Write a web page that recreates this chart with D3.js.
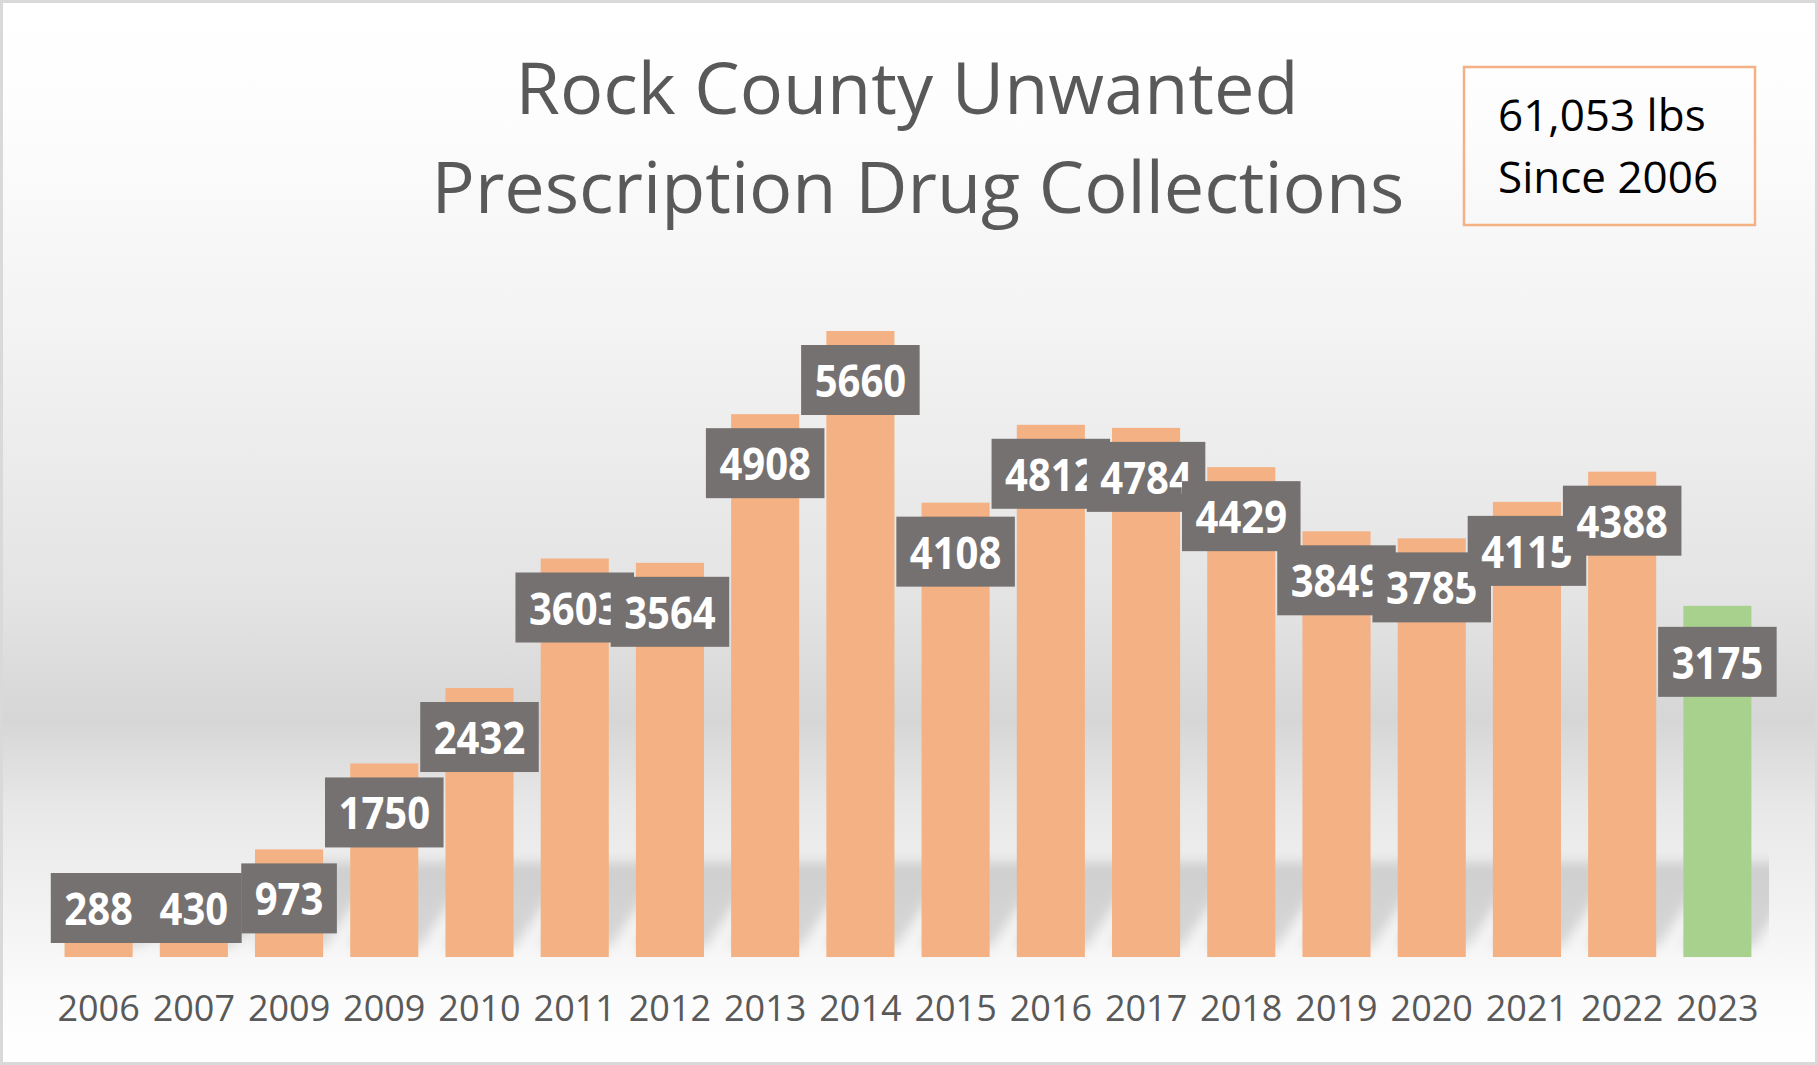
<!DOCTYPE html>
<html>
<head>
<meta charset="utf-8">
<script src="https://cdn.jsdelivr.net/npm/d3@7"></script>
<style>
  html, body { margin: 0; padding: 0; background: #fff; }
  svg text { font-family: 'Open Sans', 'Noto Sans', sans-serif; }
</style>
</head>
<body>
<div id="chart"></div>
<script>
'use strict';
// data
var years = ["2006","2007","2009","2009","2010","2011","2012","2013","2014","2015","2016","2017","2018","2019","2020","2021","2022","2023"];
var pounds = [288,430,973,1750,2432,3603,3564,4908,5660,4108,4812,4784,4429,3849,3785,4115,4388,3175];
var yDomain = [0, 6000];
var titleLines = ["Rock County Unwanted", "Prescription Drug Collections"];
var totalLines = ["61,053 lbs", "Since 2006"];

var width = 1818, height = 1065;
var orange = "#F4B183", green = "#A9D18E", labelGrey = "#767171";
var base = 957;

var svg = d3.select("#chart").append("svg")
        .attr("width", width)
        .attr("height", height);

var defs = svg.append("defs");

// background gradient
var grad = defs.append("linearGradient")
        .attr("id", "bg")
        .attr("gradientUnits", "userSpaceOnUse")
        .attr("x1", 0).attr("y1", 0)
        .attr("x2", 0).attr("y2", height);
[[0, "#ffffff"], [0.11, "#fdfdfd"], [0.33, "#f2f2f2"], [0.57, "#e3e3e3"],
 [0.675, "#d6d6d6"], [0.76, "#e8e8e8"], [0.87, "#f4f4f4"], [0.94, "#fcfcfc"], [1, "#ffffff"]]
    .forEach(function(s) {
        grad.append("stop").attr("offset", s[0]).attr("stop-color", s[1]);
    });

var blur = defs.append("filter")
        .attr("id", "soft")
        .attr("filterUnits", "userSpaceOnUse")
        .attr("x", 0).attr("y", 600)
        .attr("width", width).attr("height", 465);
blur.append("feGaussianBlur").attr("stdDeviation", 6);

defs.append("clipPath").attr("id", "plotClip")
    .append("rect")
    .attr("x", 48).attr("y", 700)
    .attr("width", 1721).attr("height", 258);

svg.append("rect")
    .attr("x", 0).attr("y", 0)
    .attr("width", width).attr("height", height)
    .attr("fill", "url(#bg)");

var x = d3.scaleBand()
        .domain(d3.range(years.length))
        .range([51, 1765])
        .paddingInner(0.285)
        .paddingOuter(0.1425);

var y = d3.scaleLinear()
        .domain(yDomain)
        .range([base, 293.4]);

// floor shadows behind the bars (slanted, soft)
var dx = 55;
svg.append("g")
    .attr("clip-path", "url(#plotClip)")
    .append("g")
    .attr("filter", "url(#soft)")
    .selectAll("path")
    .data(pounds)
    .enter().append("path")
    .attr("d", function(d, i) {
        var x0 = x(i) - 2, x1 = x(i) + x.bandwidth() + 2;
        var hs = Math.min(95, base - y(d));
        return "M" + x0 + "," + (base - 10) + "L" + x1 + "," + (base - 10) +
               "L" + (x1 + dx) + "," + (base - hs) + "L" + (x0 + dx) + "," + (base - hs) + "Z";
    })
    .attr("fill", "#000")
    .attr("opacity", 0.13);

// bars
svg.append("g")
    .selectAll("rect")
    .data(pounds)
    .enter().append("rect")
    .attr("x", function(d, i) { return x(i); })
    .attr("y", function(d) { return y(d); })
    .attr("width", x.bandwidth())
    .attr("height", function(d) { return base - y(d); })
    .attr("fill", function(d, i) { return i == pounds.length - 1 ? green : orange; });

// category axis
var axis = svg.append("g")
        .attr("transform", "translate(0," + base + ")")
        .call(d3.axisBottom(x)
            .tickFormat(function(i) { return years[i]; })
            .tickSize(0)
            .tickPadding(38));
axis.select(".domain").remove();
axis.selectAll("text")
    .attr("font-size", 36)
    .attr("fill", "#595959")
    .style("font-family", "'Open Sans', 'Noto Sans', sans-serif");

// data labels, drawn in order so each one covers the previous
var boxH = 70, squeeze = 0.91;
var labels = svg.append("g")
        .selectAll("g")
        .data(pounds)
        .enter().append("g");

labels.each(function(d, i) {
    var g = d3.select(this);
    var cx = x(i) + x.bandwidth() / 2;
    var top = Math.min(y(d) + 14, base - 14 - boxH);
    if (i == pounds.length - 1) top += 7;   // last label sits a bit lower
    var r = g.append("rect").attr("fill", labelGrey);
    var t = g.append("text")
            .attr("transform", "translate(" + cx + "," + (top + 52) + ") scale(" + squeeze + ",1)")
            .attr("text-anchor", "middle")
            .attr("font-size", 44)
            .attr("font-weight", "bold")
            .attr("fill", "#fff")
            .text(d);
    var w = t.node().getComputedTextLength() * squeeze + 27;
    r.attr("x", cx - w / 2)
     .attr("y", top)
     .attr("width", w)
     .attr("height", boxH);
});

// title
svg.append("text")
    .attr("x", 907).attr("y", 114)
    .attr("text-anchor", "middle")
    .attr("font-size", 72)
    .attr("fill", "#595959")
    .text(titleLines[0]);
svg.append("text")
    .attr("x", 918).attr("y", 213)
    .attr("text-anchor", "middle")
    .attr("font-size", 72)
    .attr("fill", "#595959")
    .text(titleLines[1]);

// total box
svg.append("rect")
    .attr("x", 1464).attr("y", 67)
    .attr("width", 291).attr("height", 158)
    .attr("fill", "none")
    .attr("stroke", orange)
    .attr("stroke-width", 2.5);
svg.selectAll(".total")
    .data(totalLines)
    .enter().append("text")
    .attr("class", "total")
    .attr("x", 1498)
    .attr("y", function(d, i) { return 131 + i * 62; })
    .attr("font-size", 44)
    .attr("fill", "#000")
    .text(function(d) { return d; });

// outer border
svg.append("rect")
    .attr("x", 1.5).attr("y", 1.5)
    .attr("width", width - 3).attr("height", height - 3)
    .attr("fill", "none")
    .attr("stroke", "#d9d9d9")
    .attr("stroke-width", 3);
</script>
</body>
</html>
